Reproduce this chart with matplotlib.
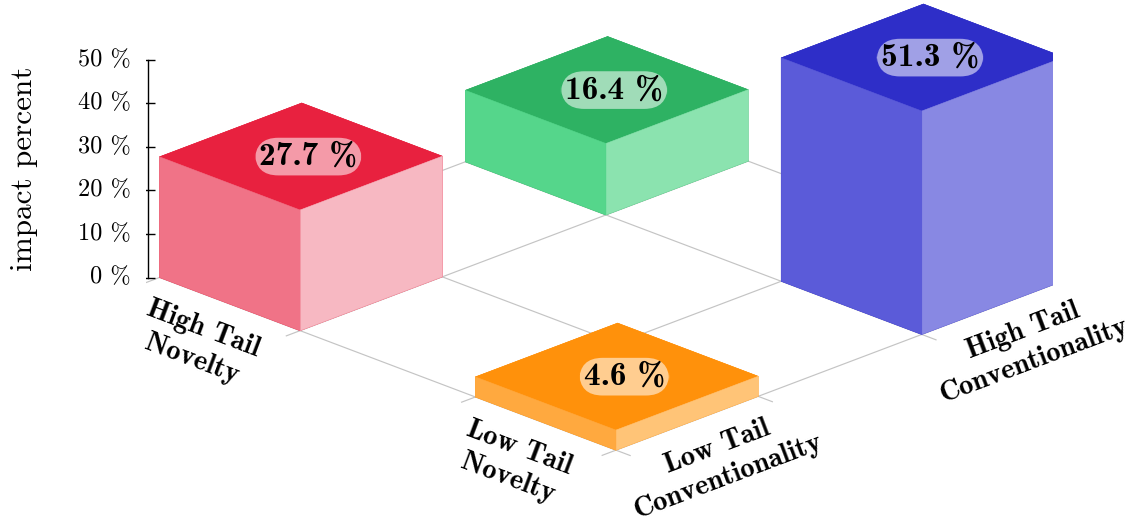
import numpy as np
import matplotlib.pyplot as plt

# categories on the two floor axes
novelty = ['High Tail\nNovelty', 'Low Tail\nNovelty']
conventionality = ['Low Tail\nConventionality', 'High Tail\nConventionality']

# impact percent, rows: novelty (High, Low), columns: conventionality (Low, High)
impact = np.array([[27.7, 16.4],
                   [4.6, 51.3]])

z_ticks = [0, 10, 20, 30, 40, 50]
z_ticklabels = ['0 %', '10 %', '20 %', '30 %', '40 %', '50 %']

top_colors = [['#E8213F', '#2EB263'], ['#FF910B', '#2E2EC8']]
left_colors = [['#F07387', '#55D68B'], ['#FFA93F', '#5B5BD9']]
right_colors = [['#F7B8C2', '#8BE3AF'], ['#FFC477', '#8888E3']]

# bar footprint along novelty (x) and conventionality (y)
wx, wy = 0.445, 0.465
x_lo, x_hi = -wx / 2, 1 + wx / 2
y_lo, y_hi = -wy / 2, 1 + wy / 2
x_grid = [x_lo, wx / 2, 1 - wx / 2, x_hi]
y_grid = [y_lo, wy / 2, 1 - wy / 2, y_hi]

fig = plt.figure(figsize=(11.33, 5.25), dpi=100)
ax = fig.add_axes([0.12873, -0.21162, 0.80080, 1.72819], projection='3d', proj_type='ortho')
ax.view_init(elev=22.23, azim=-45)
ax.set_xlim(x_lo, x_hi)
ax.set_ylim(y_lo, y_hi)
ax.set_zlim(0, 50)
ax.set_box_aspect((1, 0.9817, 0.3644))
ax.set_axis_off()
ax.computed_zorder = False

# floor grid and ticks
gray = '#C4C4C4'
for g in x_grid:
    ax.plot([g, g], [y_lo, y_hi], [0, 0], color=gray, lw=0.85, zorder=1)
    ax.plot([g, g], [y_lo, y_lo - 0.045], [0, 0], color=gray, lw=0.85, zorder=1)
for g in y_grid:
    ax.plot([x_lo, x_hi], [g, g], [0, 0], color=gray, lw=0.85, zorder=1)
    ax.plot([x_hi, x_hi + 0.045], [g, g], [0, 0], color=gray, lw=0.85, zorder=1)

# bars, faces: -z, +z, -y, +y, -x, +x
for i in range(2):
    for j in range(2):
        v = impact[i, j]
        top = top_colors[i][j]
        faces = [top, top, left_colors[i][j], top, top, right_colors[i][j]]
        ax.bar3d(i - wx / 2, j - wy / 2, 0, wx, wy, v, color=faces, edgecolor=faces,
                 linewidth=0.4, shade=False, zorder=3 + i - j)
        ax.text(i + 0.012, j + 0.012, v, f'{v:.1f} %', ha='center', va='center',
                fontfamily='cmb10', fontsize=24, zorder=10,
                bbox=dict(boxstyle='round,pad=0.13,rounding_size=0.7',
                          fc=(1, 1, 1, 0.55), ec='none'))

# vertical axis
za, zb = -0.24, -0.251
ax.plot([za, za], [zb, zb], [0, 50], color='black', lw=1.0, zorder=6)
ax.plot([za] * len(z_ticks), [zb] * len(z_ticks), z_ticks, ls='none', marker='_',
        ms=9.4, mew=1.0, color='black', zorder=6)
for z, lab in zip(z_ticks, z_ticklabels):
    ax.text(za - 0.0279, zb - 0.0289, z, lab, ha='right', va='center',
            fontfamily='cmr10', fontsize=17.5, zorder=10)
ax.text(za - 0.196, zb - 0.203, 25, 'impact percent', zdir='z', ha='center', va='center',
        fontfamily='cmr10', fontsize=22.5, zorder=10)

# category labels
for i, lab in enumerate(novelty):
    ax.text(i + 0.116, y_lo - 0.225, 0, lab, zdir='x', ha='center', va='center',
            multialignment='center', linespacing=1.3, fontfamily='cmb10',
            fontsize=20.5, zorder=10)
for j, lab in enumerate(conventionality):
    ax.text(x_hi + 0.217, j - 0.107, 0, lab, zdir='y', ha='center', va='center',
            multialignment='center', linespacing=1.3, fontfamily='cmb10',
            fontsize=20.5, zorder=10)

fig.savefig('out.png', dpi=100)
